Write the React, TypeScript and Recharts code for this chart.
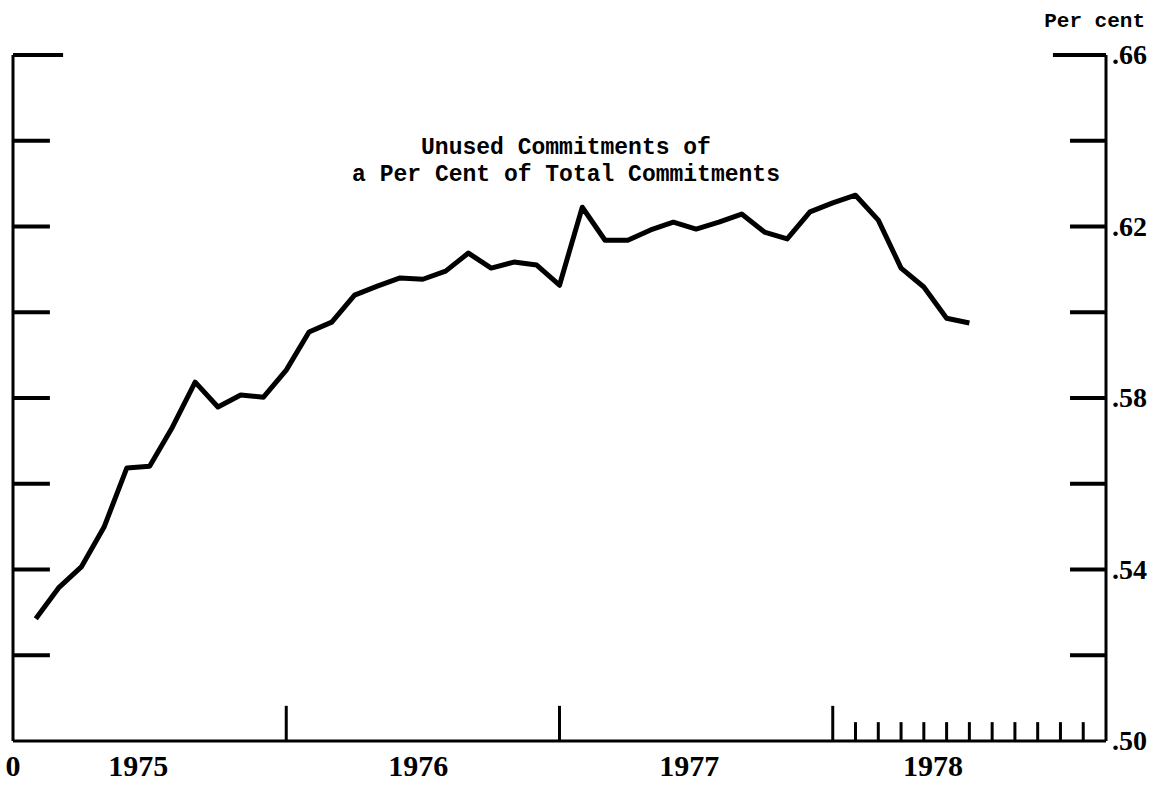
import { LineChart, Line, XAxis, YAxis, ReferenceLine } from "recharts"

// monthly readings, end of Jan 1975 through end of Jun 1978 (per cent)
const values = [
    0.5285, 0.5357, 0.5406, 0.5499, 0.5637, 0.5641, 0.5732, 0.5837, 0.5779, 0.5807, 0.5802, 0.5865,
    0.5954, 0.5977, 0.604, 0.6061, 0.608, 0.6077, 0.6096, 0.6138, 0.6103, 0.6117, 0.611, 0.6063,
    0.6245, 0.6168, 0.6168, 0.6192, 0.621, 0.6194, 0.621, 0.6229, 0.6187, 0.6171, 0.6234, 0.6255,
    0.6273, 0.6215, 0.6103, 0.6059, 0.5986, 0.5975,
]

const yearLabels = ["0", "1975", "1976", "1977", "1978"]
const yearLabelPos = [0, 5.5, 17.8, 29.7, 40.4]
const yearTicks = [12, 24, 36]
const monthTicks1978 = [37, 38, 39, 40, 41, 42, 43, 44, 45, 46, 47]
const rightLabels = [0.5, 0.54, 0.58, 0.62, 0.66]
const innerTicks = [0.52, 0.54, 0.56, 0.58, 0.6, 0.62, 0.64]

const data = values.map((v, i) => ({ m: i + 1, v }))

const ink = "#000"
const mono = "'Liberation Mono', 'DejaVu Sans Mono', monospace"
const serif = "'Liberation Serif', 'DejaVu Serif', serif"

// tick mark lengths, in axis units
const X_MAX = 48
const Y_MIN = 0.5
const Y_MAX = 0.66
const leftTick = 1.62
const leftTopTick = 2.2
const rightTick = 1.58
const rightTopTick = 2.33
const yearTickLen = 0.0082
const monthTickLen = 0.0044

function YearTick(props: any) {
    const { x, y, payload } = props
    const idx = yearLabelPos.indexOf(payload.value)
    return (
        <text x={x} y={y + 35} textAnchor="middle" fontFamily={serif} fontWeight="bold" fontSize={30} fill={ink}>
            {yearLabels[idx]}
        </text>
    )
}

function RightTick(props: any) {
    const { x, y, payload } = props
    return (
        <text x={x} y={y + 9} textAnchor="start" fontFamily={serif} fontWeight="bold" fontSize={28} fill={ink}>
            {payload.value.toFixed(2).slice(1)}
        </text>
    )
}

export default function App() {
    const seg = (x1: number, y1: number, x2: number, y2: number, w: number, key: string) => (
        <ReferenceLine
            key={key}
            segment={[{ x: x1, y: y1 }, { x: x2, y: y2 }]}
            stroke={ink}
            strokeWidth={w}
            ifOverflow="visible"
        />
    )
    return (
        <div style={{ position: "absolute", left: 0, top: 0, width: 1161, height: 786, background: "#fff" }}>
            <LineChart width={1161} height={786} data={data} margin={{ top: 55, right: 0, bottom: 0, left: 13 }}>
                <XAxis
                    dataKey="m"
                    type="number"
                    domain={[0, X_MAX]}
                    ticks={yearLabelPos}
                    interval={0}
                    height={45}
                    tickLine={false}
                    tickSize={0}
                    tickMargin={0}
                    axisLine={{ stroke: ink, strokeWidth: 3 }}
                    tick={<YearTick />}
                />
                <YAxis
                    orientation="right"
                    type="number"
                    domain={[Y_MIN, Y_MAX]}
                    ticks={rightLabels}
                    interval={0}
                    width={55}
                    tickLine={false}
                    tickSize={0}
                    tickMargin={6}
                    axisLine={{ stroke: ink, strokeWidth: 3 }}
                    tick={<RightTick />}
                />
                {seg(0, Y_MIN, 0, Y_MAX, 3, "leftAxis")}
                {innerTicks.map((t) => seg(0, t, leftTick, t, 4, `l${t}`))}
                {seg(0, Y_MAX, leftTopTick, Y_MAX, 4, "lTop")}
                {innerTicks.map((t) => seg(X_MAX - rightTick, t, X_MAX, t, 4, `r${t}`))}
                {seg(X_MAX - rightTopTick, Y_MAX, X_MAX, Y_MAX, 4, "rTop")}
                {yearTicks.map((m) => seg(m, Y_MIN, m, Y_MIN + yearTickLen, 3, `y${m}`))}
                {monthTicks1978.map((m) => seg(m, Y_MIN, m, Y_MIN + monthTickLen, 3, `m${m}`))}
                <Line
                    dataKey="v"
                    type="linear"
                    stroke={ink}
                    strokeWidth={5}
                    strokeLinejoin="round"
                    dot={false}
                    isAnimationActive={false}
                />
            </LineChart>
            <svg width={1161} height={786} style={{ position: "absolute", left: 0, top: 0, pointerEvents: "none" }}>
                <text x={1145} y={27} textAnchor="end" fontFamily={mono} fontWeight="bold" fontSize={21} fill={ink}>
                    Per cent
                </text>
                <text x={566} y={154} textAnchor="middle" fontFamily={mono} fontWeight="bold" fontSize={23} fill={ink}>
                    Unused Commitments of
                </text>
                <text x={566} y={181} textAnchor="middle" fontFamily={mono} fontWeight="bold" fontSize={23} fill={ink}>
                    a Per Cent of Total Commitments
                </text>
            </svg>
        </div>
    )
}
